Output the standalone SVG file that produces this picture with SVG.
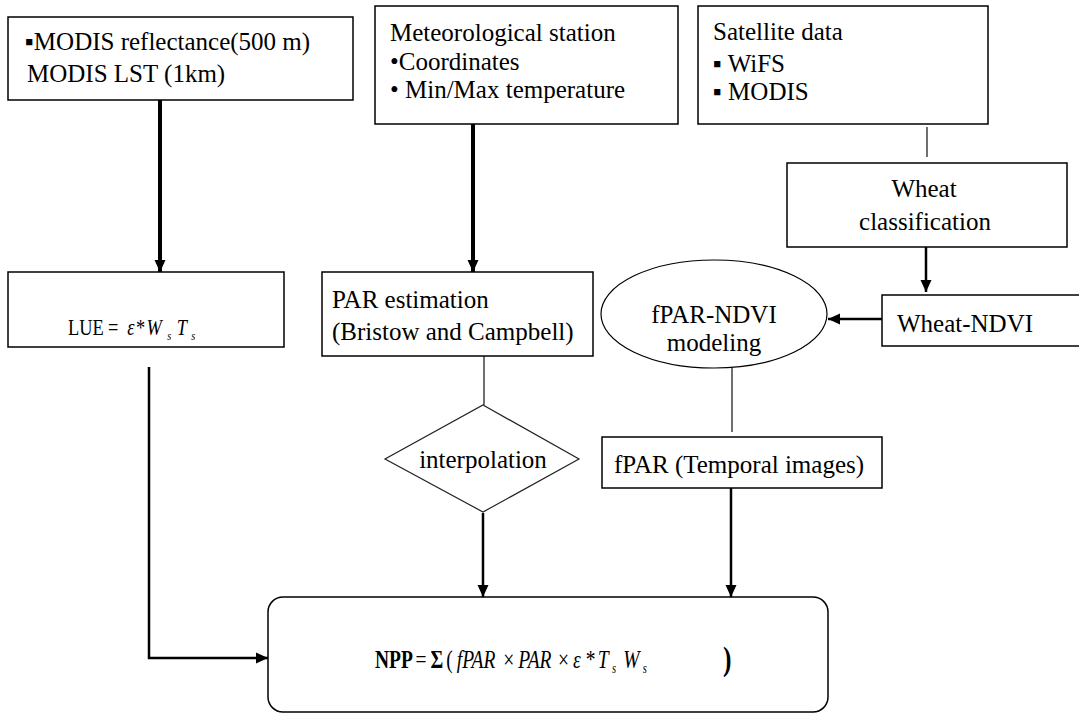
<svg xmlns="http://www.w3.org/2000/svg" width="1079" height="717" viewBox="0 0 1079 717">
<style>
.box{fill:#fff;stroke:#000;stroke-width:1.5}
.t{font-family:"Liberation Serif","Times New Roman",serif;font-size:25px;fill:#000}
.eq{font-family:"Liberation Serif","Times New Roman",serif;fill:#000}
.i{font-style:italic}
.b{font-weight:bold}
.thin{fill:none;stroke:#222;stroke-width:1.3}
.arr{fill:none;stroke:#000;stroke-width:2.5;marker-end:url(#ah)}
.arrT{fill:none;stroke:#000;stroke-width:4;marker-end:url(#ah)}
</style>
<defs>
<marker id="ah" markerUnits="userSpaceOnUse" markerWidth="12" markerHeight="12" refX="12" refY="6" orient="auto" viewBox="0 0 12 12">
<path d="M0,0.5 L12,6 L0,11.5 z" fill="#000"/>
</marker>
</defs>
<rect width="1079" height="717" fill="#fff"/>

<g id="connectors">
<line class="arrT" x1="160" y1="100" x2="160" y2="272"/>
<line class="arrT" x1="473" y1="124" x2="473" y2="272"/>
<line class="thin" x1="927" y1="127" x2="927" y2="157"/>
<line class="arr" x1="926" y1="247" x2="926" y2="292"/>
<line class="arr" x1="882" y1="319" x2="828" y2="319"/>
<line class="thin" x1="484" y1="356" x2="484" y2="405"/>
<line class="thin" x1="732" y1="367" x2="732" y2="432"/>
<line class="arr" x1="483" y1="513" x2="483" y2="597"/>
<line class="arr" x1="731" y1="488" x2="731" y2="597"/>
<path class="arr" d="M149,367 V658 H268"/>
</g>

<g id="modis-input">
<rect class="box" x="8" y="17" width="345" height="83"/>
<text class="t" x="25" y="50">▪MODIS reflectance(500 m)</text>
<text class="t" x="27" y="82">MODIS LST (1km)</text>
</g>

<g id="met-station">
<rect class="box" x="375" y="6" width="303" height="118"/>
<text class="t" x="390" y="41">Meteorological station</text>
<text class="t" x="390" y="70">•Coordinates</text>
<text class="t" x="390" y="98">• Min/Max  temperature</text>
</g>

<g id="satellite">
<rect class="box" x="698" y="6" width="290" height="118"/>
<text class="t" x="713" y="40">Satellite data</text>
<text class="t" x="713" y="72">▪ WiFS</text>
<text class="t" x="713" y="100">▪ MODIS</text>
</g>

<g id="wheat-class">
<rect class="box" x="787" y="163" width="280" height="84"/>
<text class="t" x="924" y="197" text-anchor="middle">Wheat</text>
<text class="t" x="925" y="230" text-anchor="middle">classification</text>
</g>

<g id="wheat-ndvi">
<rect class="box" x="882" y="295" width="220" height="51"/>
<text class="t" x="897" y="332">Wheat-NDVI</text>
</g>

<g id="lue">
<rect class="box" x="8" y="272" width="276" height="75"/>
<text class="eq" font-size="23" transform="matrix(0.8 0 0 1 68 335)"><tspan x="0">LUE</tspan><tspan x="50">=</tspan><tspan x="74" class="i">ε</tspan><tspan x="85">*</tspan><tspan x="98" class="i">W</tspan><tspan x="124" dy="5" font-size="13" class="i">s</tspan><tspan x="136" dy="-5" class="i">T</tspan><tspan x="154" dy="5" font-size="13" class="i">s</tspan></text>
</g>

<g id="par">
<rect class="box" x="322" y="272" width="271" height="84"/>
<text class="t" x="332" y="308">PAR estimation</text>
<text class="t" x="332" y="340">(Bristow and Campbell)</text>
</g>

<g id="fpar-ndvi">
<ellipse cx="714" cy="314" rx="113" ry="54" fill="#fff" stroke="#000" stroke-width="1.2"/>
<text class="t" x="714" y="323" text-anchor="middle">fPAR-NDVI</text>
<text class="t" x="714" y="351" text-anchor="middle">modeling</text>
</g>

<g id="interpolation">
<polygon points="483,405 579,459 483,512 385,459" fill="#fff" stroke="#222" stroke-width="1.2"/>
<text class="t" x="483" y="468" text-anchor="middle">interpolation</text>
</g>

<g id="fpar">
<rect class="box" x="602" y="437" width="280" height="51"/>
<text class="t" x="614" y="473">fPAR (Temporal images)</text>
</g>

<g id="npp">
<rect class="box" x="268" y="597" width="560" height="115" rx="15" ry="15"/>
<text class="eq" font-size="26" transform="matrix(0.75 0 0 1 375 668)"><tspan x="0" class="b">NPP</tspan><tspan x="54">=</tspan><tspan x="74" class="b">Σ</tspan><tspan x="95">(</tspan><tspan x="109" class="i">fPAR</tspan><tspan x="171">×</tspan><tspan x="191" class="i">PAR</tspan><tspan x="244">×</tspan><tspan x="264" class="i">ε</tspan><tspan x="281">*</tspan><tspan x="297" class="i">T</tspan><tspan x="316" dy="5" font-size="14" class="i">s</tspan><tspan x="331" dy="-5" class="i">W</tspan><tspan x="357" dy="5" font-size="14" class="i">s</tspan><tspan x="464" dy="-3" font-size="34" class="b">)</tspan></text>
</g>
</svg>
